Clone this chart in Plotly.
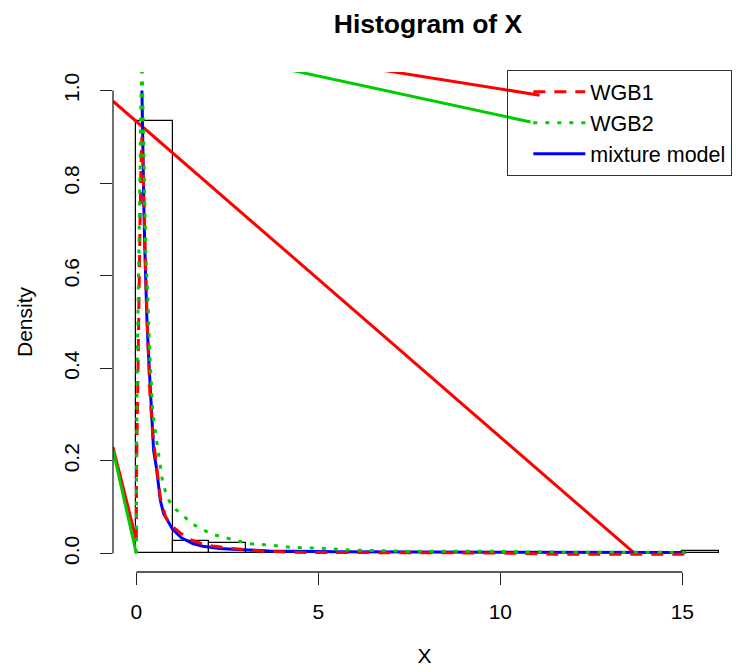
import plotly.graph_objects as go

# ---------------- data ----------------
bin_edges = [0, 1, 2, 3, 4, 5, 6, 7, 8, 9, 10, 11, 12, 13, 14, 15, 16]
hist_density = [0.934, 0.027, 0.022, 0.002, 0.002, 0.001, 0.001, 0.001,
                0.0, 0.001, 0.001, 0.0, 0.001, 0.001, 0.0, 0.006]

mix_x = [0.155, 0.18, 0.21, 0.235, 0.255, 0.29, 0.33, 0.385, 0.42, 0.475,
         0.55, 0.66, 0.75, 0.915, 1.0, 1.24, 1.37, 1.55, 1.83, 2.29, 2.75,
         3.66, 5.5, 7.5, 10.0, 12.5, 15.1]
mix_y = [1.0, 0.85, 0.741, 0.655, 0.583, 0.511, 0.439, 0.367, 0.295, 0.223,
         0.187, 0.115, 0.086, 0.062, 0.052, 0.034, 0.029, 0.0216, 0.0158,
         0.0108, 0.0086, 0.0056, 0.0035, 0.003, 0.0025, 0.002, 0.002]

wgb1_x = [0.0, 0.0, 0.01, 0.03, 0.05, 0.07, 0.1, 0.13, 0.155, 0.18, 0.21,
          0.25, 0.3, 0.37, 0.45, 0.55, 0.66, 0.8, 0.915, 1.0, 1.2, 1.46, 1.8,
          2.1, 2.65, 3.48, 4.67, 6.0, 8.0, 10.0, 11.5, 13.5, 15.1]
wgb1_y = [0.029, 0.115, 0.2, 0.3, 0.45, 0.56, 0.7, 0.84, 0.9, 0.85, 0.74,
          0.63, 0.5, 0.35, 0.26, 0.19, 0.12, 0.08, 0.065, 0.058, 0.045, 0.031,
          0.021, 0.016, 0.0108, 0.005, 0.002, 0.002, 0.002, 0.001, -0.0015,
          -0.0015, -0.0015]

wgb2_x = [0.0, 0.0, 0.01, 0.025, 0.05, 0.07, 0.1, 0.13, 0.155, 0.18, 0.2,
          0.23, 0.26, 0.32, 0.365, 0.456, 0.59, 0.73, 0.86, 1.0, 1.28, 1.51,
          2.06, 2.75, 3.07, 3.66, 4.3, 5.2, 5.86, 7.4, 9.5, 11.0, 13.0, 15.1]
wgb2_y = [0.0, 0.15, 0.25, 0.4, 0.55, 0.7, 0.85, 0.98, 1.08, 0.98, 0.88,
          0.763, 0.655, 0.547, 0.44, 0.30, 0.223, 0.151, 0.12, 0.10, 0.083,
          0.065, 0.042, 0.028, 0.0216, 0.018, 0.013, 0.011, 0.0076, 0.005,
          0.005, 0.003, 0.0025, 0.0025]

# straight solid segments that appear in the reference
red_long_x = [-0.64, 13.69]
red_long_y = [0.977, 0.0]
red_left_x = [-0.64, 0.0]
red_left_y = [0.23, 0.029]
green_left_x = [-0.64, 0.0]
green_left_y = [0.223, 0.0]
red_top_x = [6.6, 11.08]
red_top_y = [1.046, 0.99]
green_top_x = [4.13, 10.83]
green_top_y = [1.046, 0.932]

x_ticks = [0, 5, 10, 15]
y_ticks = [0.0, 0.2, 0.4, 0.6, 0.8, 1.0]
y_tick_text = ["0.0", "0.2", "0.4", "0.6", "0.8", "1.0"]

RED = "#FF0000"
GREEN = "#00CD00"
BLUE = "#0000FF"
FONT = "Liberation Sans, Arial, Helvetica, sans-serif"

mids = [(bin_edges[i] + bin_edges[i + 1]) / 2 for i in range(len(hist_density))]
widths = [bin_edges[i + 1] - bin_edges[i] for i in range(len(hist_density))]

fig = go.Figure()
fig.add_trace(go.Bar(x=mids, y=hist_density, width=widths,
                     marker=dict(color="rgba(0,0,0,0)",
                                 line=dict(color="black", width=1.2)),
                     showlegend=False, hoverinfo="skip"))

for sx, sy, col in [(red_long_x, red_long_y, RED), (red_left_x, red_left_y, RED),
                    (green_left_x, green_left_y, GREEN), (red_top_x, red_top_y, RED),
                    (green_top_x, green_top_y, GREEN)]:
    fig.add_trace(go.Scatter(x=sx, y=sy, mode="lines",
                             line=dict(color=col, width=3),
                             showlegend=False, hoverinfo="skip"))

fig.add_trace(go.Scatter(x=mix_x, y=mix_y, mode="lines", name="mixture model",
                         line=dict(color=BLUE, width=3), legendrank=3))
fig.add_trace(go.Scatter(x=wgb1_x, y=wgb1_y, mode="lines", name="WGB1",
                         line=dict(color=RED, width=3, dash="12px,9px"),
                         legendrank=1))
fig.add_trace(go.Scatter(x=wgb2_x, y=wgb2_y, mode="lines", name="WGB2",
                         line=dict(color=GREEN, width=3, dash="4px,8px"),
                         legendrank=2))

fig.update_layout(
    width=736, height=672,
    margin=dict(l=113, r=0, t=72, b=100, pad=0),
    paper_bgcolor="white", plot_bgcolor="white",
    font=dict(family=FONT, size=21, color="black"),
    title=dict(text="Histogram of X", xref="container", x=428 / 736,
               xanchor="center", yref="container", y=1 - 23.5 / 672,
               yanchor="middle",
               font=dict(family=FONT, size=26.5, color="black", weight="bold")),
    xaxis=dict(range=[-0.64, 16.475], tickvals=x_ticks,
               ticks="outside", ticklen=12, tickwidth=1.3, tickcolor="#222",
               showline=False, showgrid=False, zeroline=False,
               ticklabelstandoff=9,
               title=dict(text="X", standoff=26, font=dict(size=21))),
    yaxis=dict(range=[-0.04, 1.04], tickvals=y_ticks, ticktext=y_tick_text,
               tickangle=-90,
               ticks="outside", ticklen=12, tickwidth=1.3, tickcolor="#222",
               showline=False, showgrid=False, zeroline=False,
               ticklabelstandoff=13,
               title=dict(text="Density", standoff=21, font=dict(size=21))),
    legend=dict(x=(507 - 113) / 623, y=1.004, xanchor="left", yanchor="top",
                bgcolor="rgba(0,0,0,0)", bordercolor="#333", borderwidth=1.3,
                font=dict(size=21.5), itemwidth=52, indentation=20,
                tracegroupgap=0),
    shapes=[
        dict(type="line", xref="x", yref="paper", x0=min(x_ticks), x1=max(x_ticks),
             y0=0, y1=0, line=dict(color="#222", width=1.3)),
        dict(type="line", xref="paper", yref="y", x0=0, x1=0,
             y0=min(y_ticks), y1=max(y_ticks), line=dict(color="#222", width=1.3)),
    ],
    bargap=0,
)

fig.write_html("out.html", config={"displayModeBar": False},
               post_script="document.body.style.margin='0';")
